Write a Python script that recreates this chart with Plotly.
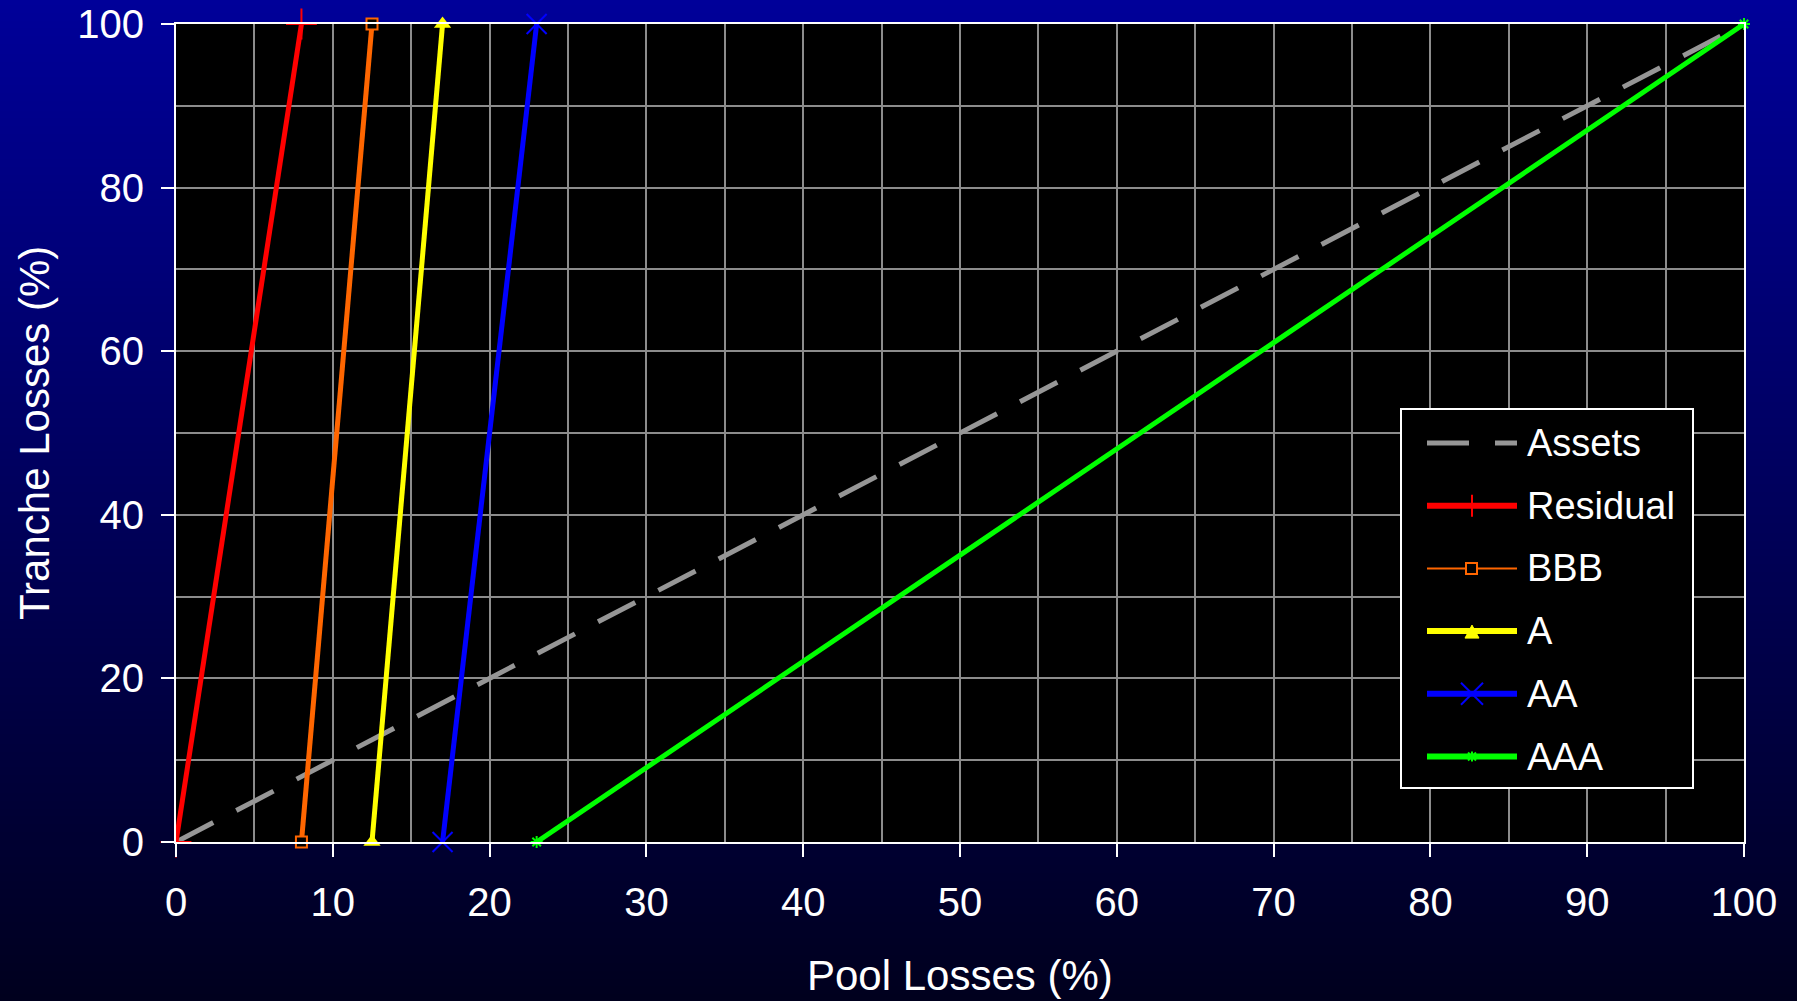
import base64
import struct
import zlib

import plotly.graph_objects as go

# ---------------------------------------------------------------------------
# Data: tranche attachment / detachment points (% of pool losses)
# ---------------------------------------------------------------------------
tranche_names = ["Residual", "BBB", "A", "AA", "AAA"]
attach_points = [0, 8, 12.5, 17, 23]
detach_points = [8, 12.5, 17, 23, 100]
tranche_loss_span = [0, 100]

asset_pool_losses = [0, 100]
asset_losses = [0, 100]

x_tick_values = list(range(0, 101, 10))
y_tick_values = list(range(0, 101, 20))

# ---------------------------------------------------------------------------
# Figure geometry (pixels)
# ---------------------------------------------------------------------------
W, H = 1797, 1001
ML, MR, MT, MB = 176, 53, 24, 159
PW = W - ML - MR
PH = H - MT - MB
FONT = "Arial, Liberation Sans, sans-serif"


def px(x):
    """Horizontal pixel -> paper coordinate."""
    return (x - ML) / PW


def py(y):
    """Vertical pixel (from top) -> paper coordinate."""
    return (MT + PH - y) / PH


def gradient_png(top, bottom, n=512):
    """Vertical linear gradient as a 1-pixel-wide PNG data URI."""
    raw = bytearray()
    for i in range(n):
        t = i / (n - 1)
        raw += b"\x00" + bytes(round(a + (b - a) * t) for a, b in zip(top, bottom))

    def chunk(tag, data):
        return (struct.pack(">I", len(data)) + tag + data
                + struct.pack(">I", zlib.crc32(tag + data) & 0xFFFFFFFF))

    png = (b"\x89PNG\r\n\x1a\n"
           + chunk(b"IHDR", struct.pack(">IIBBBBB", 1, n, 8, 2, 0, 0, 0))
           + chunk(b"IDAT", zlib.compress(bytes(raw)))
           + chunk(b"IEND", b""))
    return "data:image/png;base64," + base64.b64encode(png).decode()


# Per-series styling
styles = {
    "Residual": dict(color="#FF0000", width=5, legend_width=6,
                     marker=dict(symbol="cross-thin-open", size=22,
                                 line=dict(color="#FF0000", width=2))),
    "BBB": dict(color="#FF6600", width=5, legend_width=2,
                marker=dict(symbol="square", size=11, color="#000000",
                            line=dict(color="#FF6600", width=2))),
    "A": dict(color="#FFFF00", width=5, legend_width=6,
              marker=dict(symbol="triangle-up", size=15, color="#FFFF00",
                          line=dict(width=0))),
    "AA": dict(color="#0000FF", width=5, legend_width=6,
               marker=dict(symbol="x-thin-open", size=20,
                           line=dict(color="#0000FF", width=2))),
    "AAA": dict(color="#00FF00", width=5, legend_width=6,
                marker=dict(symbol="asterisk-open", size=10,
                            line=dict(color="#00FF00", width=2))),
}
asset_color = "#969696"

fig = go.Figure()

# Pool losses passed straight through to the asset side
fig.add_trace(go.Scatter(
    x=asset_pool_losses, y=asset_losses, mode="lines", name="Assets",
    line=dict(color=asset_color, width=5, dash="42px,26px"),
    cliponaxis=False,
))

# One line per tranche: 0% loss at attachment, 100% loss at detachment
for name, a, d in zip(tranche_names, attach_points, detach_points):
    st = styles[name]
    fig.add_trace(go.Scatter(
        x=[a, d], y=tranche_loss_span, mode="lines+markers", name=name,
        line=dict(color=st["color"], width=st["width"]),
        marker=st["marker"], cliponaxis=False,
    ))

shapes = []

# Black plotting area
shapes.append(dict(type="rect", xref="paper", yref="paper", x0=0, x1=1, y0=0, y1=1,
                   fillcolor="#000000", line=dict(width=0), layer="below"))

# ---------------------------------------------------------------------------
# Legend box drawn by hand (long sample lines, roomy rows)
# ---------------------------------------------------------------------------
LG_L, LG_R, LG_T, LG_B = 1401, 1693, 409, 788
shapes.append(dict(type="rect", xref="paper", yref="paper",
                   x0=px(LG_L), x1=px(LG_R), y0=py(LG_B), y1=py(LG_T),
                   fillcolor="#000000", line=dict(color="#FFFFFF", width=2),
                   layer="above"))

row0, row_step = 443, 62.7
sample_l, sample_r, sample_c = 1427, 1517, 1472
text_x = 1525
annotations = []

legend_rows = ["Assets"] + tranche_names
for i, name in enumerate(legend_rows):
    yc = row0 + i * row_step
    if name == "Assets":
        lc, lw, dash = asset_color, 5, "42px,26px"
    else:
        lc, lw, dash = styles[name]["color"], styles[name]["legend_width"], "solid"
    shapes.append(dict(type="line", xref="paper", yref="paper",
                       x0=px(sample_l), x1=px(sample_r), y0=py(yc), y1=py(yc),
                       line=dict(color=lc, width=lw, dash=dash)))

    def seg(x0, y0, x1, y1, color, w=2):
        shapes.append(dict(type="line", xref="paper", yref="paper",
                           x0=px(x0), x1=px(x1), y0=py(y0), y1=py(y1),
                           line=dict(color=color, width=w)))

    if name == "Residual":
        seg(sample_c, yc - 11, sample_c, yc + 11, lc)
    elif name == "BBB":
        shapes.append(dict(type="rect", xref="paper", yref="paper",
                           x0=px(sample_c - 6), x1=px(sample_c + 5),
                           y0=py(yc + 5.5), y1=py(yc - 5.5),
                           fillcolor="#000000", line=dict(color=lc, width=2)))
    elif name == "A":
        path = "M {:.5f},{:.5f} L {:.5f},{:.5f} L {:.5f},{:.5f} Z".format(
            px(sample_c - 7), py(yc + 7), px(sample_c + 7), py(yc + 7),
            px(sample_c), py(yc - 6))
        shapes.append(dict(type="path", xref="paper", yref="paper", path=path,
                           fillcolor=lc, line=dict(color=lc, width=1)))
    elif name == "AA":
        seg(sample_c - 11, yc - 11, sample_c + 11, yc + 11, lc)
        seg(sample_c - 11, yc + 11, sample_c + 11, yc - 11, lc)
    elif name == "AAA":
        seg(sample_c, yc - 5, sample_c, yc + 5, lc)
        seg(sample_c - 4, yc - 4, sample_c + 4, yc + 4, lc)
        seg(sample_c - 4, yc + 4, sample_c + 4, yc - 4, lc)

    annotations.append(dict(xref="paper", yref="paper", x=px(text_x), y=py(yc),
                            xanchor="left", yanchor="middle", showarrow=False,
                            text=name, font=dict(family=FONT, size=38, color="#FFFFFF")))

# Axis titles
annotations.append(dict(xref="paper", yref="paper", x=0.5, y=py(975),
                        xanchor="center", yanchor="middle", showarrow=False,
                        text="Pool Losses (%)",
                        font=dict(family=FONT, size=42, color="#FFFFFF")))
annotations.append(dict(xref="paper", yref="paper", x=px(34), y=0.5,
                        xanchor="center", yanchor="middle", showarrow=False,
                        textangle=-90, text="Tranche Losses (%)",
                        font=dict(family=FONT, size=42, color="#FFFFFF")))

axis_common = dict(
    showline=True, linecolor="#FFFFFF", linewidth=2, mirror=True,
    ticks="outside", ticklen=13, tickwidth=2, tickcolor="#FFFFFF",
    showgrid=True, gridcolor="#8C8C8C", gridwidth=2,
    zeroline=False, automargin=False,
    tickfont=dict(family=FONT, size=40, color="#FFFFFF"),
)

fig.update_layout(
    width=W, height=H,
    margin=dict(l=ML, r=MR, t=MT, b=MB, pad=0, autoexpand=False),
    paper_bgcolor="#00005A",
    plot_bgcolor="#000000",
    showlegend=False,
    xaxis=dict(range=[0, 100], tickvals=x_tick_values, ticklabelstandoff=11,
               minor=dict(dtick=5, showgrid=True, gridcolor="#8C8C8C", gridwidth=2,
                          ticks=""),
               **axis_common),
    yaxis=dict(range=[0, 100], tickvals=y_tick_values, ticklabelstandoff=9,
               minor=dict(dtick=10, showgrid=True, gridcolor="#8C8C8C", gridwidth=2,
                          ticks=""),
               **axis_common),
    shapes=shapes,
    annotations=annotations,
    images=[dict(source=gradient_png((0, 0, 153), (0, 0, 30)),
                 xref="paper", yref="paper",
                 x=-ML / PW, y=1 + MT / PH, sizex=W / PW, sizey=H / PH,
                 xanchor="left", yanchor="top", sizing="stretch", layer="below")],
)

fig.write_html("out.html")
